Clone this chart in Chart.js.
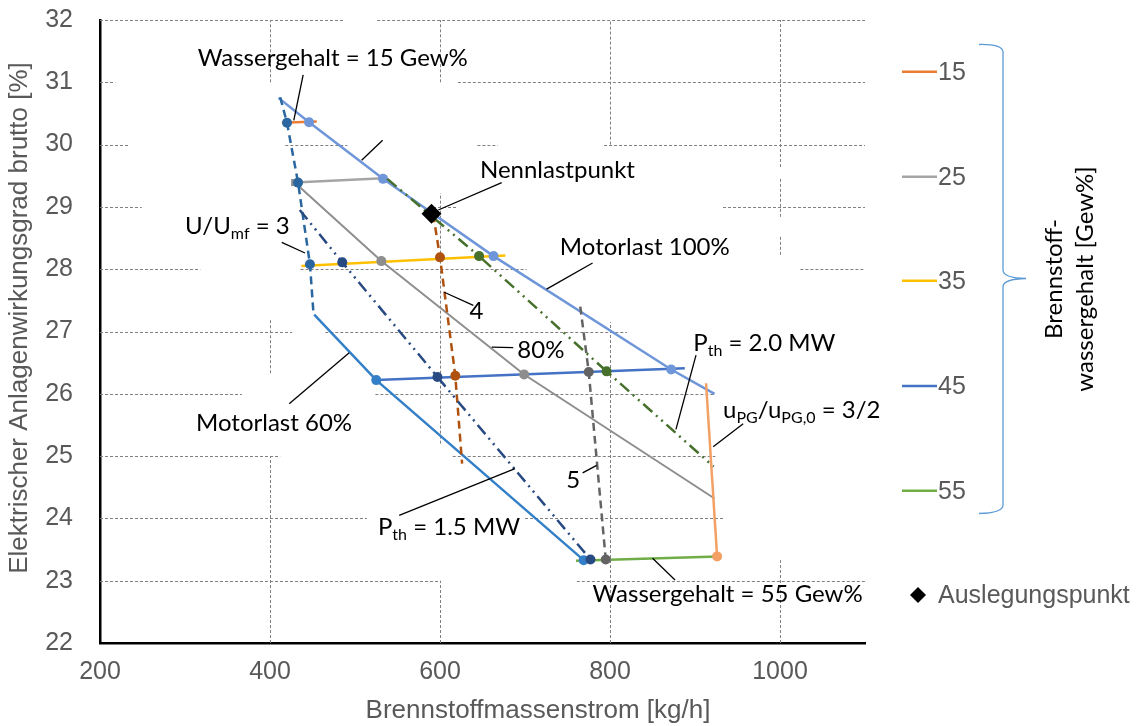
<!DOCTYPE html>
<html>
<head>
<meta charset="utf-8">
<script src="https://cdn.jsdelivr.net/npm/chart.js@4.4.1/dist/chart.umd.min.js"></script>
<style>
  html, body { margin: 0; padding: 0; background: #fff; }
  #wrap { width: 1145px; height: 726px; }
</style>
</head>
<body>
<div id="wrap"><canvas id="myChart" width="1145" height="726"></canvas></div>
<script>
// Brennstoffwassergehalt [Gew%] - lines of constant water content
const water15X = [414, 455];  const water15Y = [30.35, 30.37];
const water25X = [429, 533];  const water25Y = [29.39, 29.46];
const water35X = [437, 677];  const water35Y = [28.05, 28.22];
const water45X = [525, 888];  const water45Y = [26.22, 26.41];
const water55X = [760, 927];  const water55Y = [23.32, 23.39];

// Motorlast
const load100X = [410, 446, 533, 663, 872, 923];
const load100Y = [30.75, 30.36, 29.45, 28.21, 26.39, 26.00];
const load80X = [429, 531, 699, 923];
const load80Y = [29.39, 28.13, 26.31, 24.32];
const load60X = [452, 525, 769];
const load60Y = [27.27, 26.22, 23.33];

// U/Umf
const umf3X = [412, 420, 433, 447, 451];
const umf3Y = [30.76, 30.35, 29.39, 28.08, 27.32];
const umf4X = [592, 600, 618, 626];
const umf4Y = [28.88, 28.19, 26.29, 24.88];
const umf5X = [765, 775, 795];
const umf5Y = [27.40, 26.35, 23.34];

// P_th
const pth20X = [538, 646, 796, 922];
const pth20Y = [29.45, 28.21, 26.36, 24.83];
const pth15X = [435, 485, 597, 777];
const pth15Y = [28.95, 28.11, 26.27, 23.34];

// u_PG/u_PG,0 = 3/2
const upgX = [913, 926];
const upgY = [26.17, 23.39];

// Nennlastpunkt / Auslegungspunkt
const designX = [590];
const designY = [28.89];

const xTicks = [200, 1100, 200];   // min, max, step
const yTicks = [22, 32, 1];
const legendLabels = ['15', '25', '35', '45', '55'];

const pts = (xs, ys) => xs.map((x, i) => ({ x: x, y: ys[i] }));

function lineSet(label, xs, ys, color, marked, extra) {
    return Object.assign({
        label: label,
        data: pts(xs, ys),
        showLine: true,
        borderColor: color,
        backgroundColor: color,
        borderWidth: 2.5,
        pointRadius: ctx => marked.includes(ctx.dataIndex) ? 5 : 0,
        pointHoverRadius: 0,
        pointBorderWidth: 0,
        tension: 0
    }, extra || {});
}

const DASH = [8, 5];
const DASH_DOT_DOT = [12, 5, 2, 5, 2, 5];

const waterColors = ['#ED7D31', '#A5A5A5', '#FFC000', '#4472C4', '#70AD47'];

const datasets = [
    {
        label: 'Auslegungspunkt', data: pts(designX, designY), showLine: false,
        pointStyle: 'rectRot', pointRadius: 10, backgroundColor: '#000', borderColor: '#000', pointBorderWidth: 0
    },
    lineSet('uPG 3/2', upgX, upgY, '#F2A064', [1]),
    lineSet('Pth 2.0', pth20X, pth20Y, '#46702C', [1, 2], { borderDash: DASH_DOT_DOT }),
    lineSet('Pth 1.5', pth15X, pth15Y, '#284A82', [1, 2, 3], { borderDash: DASH_DOT_DOT }),
    lineSet('Umf 5', umf5X, umf5Y, '#636363', [1, 2], { borderDash: DASH }),
    lineSet('Umf 4', umf4X, umf4Y, '#B0520F', [1, 2], { borderDash: DASH }),
    lineSet('Umf 3', umf3X, umf3Y, '#2A66A0', [1, 2, 3], { borderDash: DASH }),
    lineSet('Motorlast 100%', load100X, load100Y, '#6E96D8', [1, 2, 3, 4]),
    lineSet('Motorlast 80%', load80X, load80Y, '#8E8E8E', [0, 1, 2],
        { pointStyle: ctx => ctx.dataIndex === 0 ? 'rect' : 'circle', borderWidth: 2 }),
    lineSet('Motorlast 60%', load60X, load60Y, '#3480C8', [1, 2]),
    lineSet('15', water15X, water15Y, waterColors[0], []),
    lineSet('25', water25X, water25Y, waterColors[1], []),
    lineSet('35', water35X, water35Y, waterColors[2], []),
    lineSet('45', water45X, water45Y, waterColors[3], []),
    lineSet('55', water55X, water55Y, waterColors[4], [])
];

// dashed grid, drawn in pieces like the original (gaps where label boxes covered it)
const gridH = [
    [32, [[200, 486], [526, 1100]]],
    [31, [[200, 218], [621, 1100]]],
    [30, [[200, 233], [418, 491], [644, 668], [793, 1100]]],
    [29, [[200, 249], [580, 621], [933, 1100]]],
    [28, [[200, 318], [436, 702], [1024, 1100]]],
    [27, [[200, 426], [465, 820]]],
    [26, [[200, 367], [524, 924]]],
    [25, [[200, 412], [615, 924]]],
    [24, [[200, 514], [700, 933]]],
    [23, [[200, 600], [761, 1100]]]
];
const gridV = [
    [400, [[31, 32], [26.33, 27.21], [22, 25]]],
    [600, [[31, 32], [25.2, 29.22], [22, 23]]],
    [800, [[30, 32], [22, 27.15]]],
    [1000, [[29.64, 32], [28.84, 29.46], [28.23, 28.53], [22, 23.33]]]
];

// annotations: text parts (second item true = subscript), anchor in data units, leader line
const notes = [
    { parts: [['Wassergehalt = 15 Gew%']], at: [315, 31.39], line: [[439, 31.12], [428, 30.39]] },
    { parts: null, line: [[532.5, 30.07], [507.8, 29.75]] },
    { parts: [['Nennlastpunkt']], at: [647, 29.59], line: [[672.6, 29.39], [598, 28.95]] },
    { parts: [['U/U'], ['mf', true], [' = 3']], at: [300, 28.69], line: [[413.8, 28.43], [441.2, 28.26]] },
    { parts: [['4']], at: [643, 27.32], center: true, line: [[605, 27.63], [639.2, 27.42]] },
    { parts: [['Motorlast 100%']], at: [741, 28.36], line: [[779.5, 28.10], [725.4, 27.68]] },
    { parts: [['80%']], at: [691, 26.70], line: [[660.8, 26.75], [686.2, 26.74]] },
    { parts: [['Motorlast 60%']], at: [313, 25.53], line: [[422.6, 25.84], [493.2, 26.66]] },
    { parts: [['P'], ['th', true], [' = 2.0 MW']], at: [898, 26.81], line: [[901.2, 26.62], [877.6, 25.43]] },
    { parts: [['u'], ['PG', true], ['/u'], ['PG,0', true], [' = 3/2']], at: [933, 25.74], line: [[956.7, 25.52], [921.4, 25.15]] },
    { parts: [['5']], at: [756.7, 24.61], center: true, line: [[767.8, 24.73], [784.3, 24.85]] },
    { parts: [['P'], ['th', true], [' = 1.5 MW']], at: [527, 23.86], line: [[552, 24.05], [688.2, 24.80]] },
    { parts: [['Wassergehalt = 55 Gew%']], at: [779.5, 22.79], line: [[876.5, 23.01], [850.1, 23.36]] }
];

const NOTE_FONT = "24px Lato, 'Open Sans', sans-serif";
const SUB_FONT = "16px Lato, 'Open Sans', sans-serif";
const AXIS_FONT = "'Liberation Sans', Arial, sans-serif";
const GREY = '#595959';

function richWidth(ctx, parts) {
    let w = 0;
    parts.forEach(p => { ctx.font = p[1] ? SUB_FONT : NOTE_FONT; w += ctx.measureText(p[0]).width; });
    return w;
}
function drawRich(ctx, parts, x, y) {
    parts.forEach(p => {
        ctx.font = p[1] ? SUB_FONT : NOTE_FONT;
        ctx.fillText(p[0], x, p[1] ? y + 8 : y);
        x += ctx.measureText(p[0]).width;
    });
}

const gridPlugin = {
    id: 'pieceGrid',
    beforeDatasetsDraw(chart) {
        const { ctx, scales: { x, y } } = chart;
        ctx.save();
        ctx.strokeStyle = '#808080';
        ctx.lineWidth = 1;
        ctx.setLineDash([3, 2]);
        ctx.beginPath();
        gridH.forEach(([v, segs]) => {
            const py = Math.round(y.getPixelForValue(v)) + 0.5;
            segs.forEach(([a, b]) => { ctx.moveTo(x.getPixelForValue(a), py); ctx.lineTo(x.getPixelForValue(b), py); });
        });
        gridV.forEach(([v, segs]) => {
            const px = Math.round(x.getPixelForValue(v)) + 0.5;
            segs.forEach(([a, b]) => { ctx.moveTo(px, y.getPixelForValue(a)); ctx.lineTo(px, y.getPixelForValue(b)); });
        });
        ctx.stroke();
        ctx.restore();
    }
};

const overlayPlugin = {
    id: 'overlay',
    afterDraw(chart) {
        const { ctx, scales: { x, y } } = chart;
        ctx.save();

        // leader lines + labels
        ctx.strokeStyle = '#000';
        ctx.lineWidth = 1.3;
        ctx.setLineDash([]);
        notes.forEach(n => {
            ctx.beginPath();
            ctx.moveTo(x.getPixelForValue(n.line[0][0]), y.getPixelForValue(n.line[0][1]));
            ctx.lineTo(x.getPixelForValue(n.line[1][0]), y.getPixelForValue(n.line[1][1]));
            ctx.stroke();
        });
        ctx.fillStyle = '#000';
        ctx.textBaseline = 'middle';
        ctx.textAlign = 'left';
        notes.forEach(n => {
            if (!n.parts) return;
            let px = x.getPixelForValue(n.at[0]);
            const py = y.getPixelForValue(n.at[1]);
            if (n.center) px -= richWidth(ctx, n.parts) / 2;
            drawRich(ctx, n.parts, px, py);
        });

        // axis titles
        ctx.fillStyle = GREY;
        ctx.font = '26px ' + AXIS_FONT;
        ctx.textAlign = 'center';
        ctx.fillText('Brennstoffmassenstrom [kg/h]', 538, 711);
        ctx.save();
        ctx.translate(20, 318);
        ctx.rotate(-Math.PI / 2);
        ctx.fillText('Elektrischer Anlagenwirkungsgrad brutto [%]', 0, 0);
        ctx.restore();

        // legend
        const legY = [71.7, 176.7, 280.7, 386, 490.7];
        ctx.font = '25px ' + AXIS_FONT;
        ctx.textAlign = 'left';
        ctx.lineWidth = 2.5;
        legendLabels.forEach((lab, i) => {
            ctx.strokeStyle = waterColors[i];
            ctx.beginPath();
            ctx.moveTo(902, legY[i]);
            ctx.lineTo(937, legY[i]);
            ctx.stroke();
            ctx.fillStyle = GREY;
            ctx.fillText(lab, 938, legY[i] + 1);
        });

        // Auslegungspunkt
        ctx.fillStyle = '#000';
        ctx.beginPath();
        ctx.moveTo(918, 587); ctx.lineTo(926, 595); ctx.lineTo(918, 603); ctx.lineTo(910, 595);
        ctx.closePath();
        ctx.fill();
        ctx.fillStyle = GREY;
        ctx.fillText('Auslegungspunkt', 938, 596);

        // curly brace
        ctx.strokeStyle = '#5B9BD5';
        ctx.lineWidth = 1.3;
        ctx.beginPath();
        ctx.moveTo(979, 44.5);
        ctx.quadraticCurveTo(1003, 44, 1003, 52);
        ctx.lineTo(1003, 270);
        ctx.quadraticCurveTo(1003, 278, 1026, 278.5);
        ctx.quadraticCurveTo(1003, 279, 1003, 287);
        ctx.lineTo(1003, 505);
        ctx.quadraticCurveTo(1003, 513, 979, 513.5);
        ctx.stroke();

        // brace caption
        ctx.fillStyle = '#000';
        ctx.font = NOTE_FONT;
        ctx.textAlign = 'center';
        ctx.save();
        ctx.translate(1054, 279);
        ctx.rotate(-Math.PI / 2);
        ctx.fillText('Brennstoff-', 0, 0);
        ctx.fillText('wassergehalt [Gew%]', 0, 31);
        ctx.restore();

        ctx.restore();
    }
};

new Chart(document.getElementById('myChart'), {
    type: 'scatter',
    data: { datasets: datasets },
    options: {
        responsive: false,
        animation: false,
        devicePixelRatio: 1,
        layout: { autoPadding: false, padding: { left: 0, right: 280, top: 20, bottom: 0 } },
        plugins: { legend: { display: false }, tooltip: { enabled: false } },
        scales: {
            x: {
                type: 'linear', min: xTicks[0], max: xTicks[1],
                afterFit: s => { s.height = 83; s.paddingLeft = 0; s.paddingRight = 0; },
                grid: { display: false },
                border: { display: true, color: '#000', width: 2.5 },
                ticks: { stepSize: xTicks[2], includeBounds: false, padding: 6, color: GREY,
                         font: { family: AXIS_FONT, size: 25 }, callback: v => String(v) }
            },
            y: {
                type: 'linear', min: yTicks[0], max: yTicks[1],
                afterFit: s => { s.width = 100; s.paddingTop = 0; s.paddingBottom = 0; },
                grid: { display: false },
                border: { display: true, color: '#000', width: 2.5 },
                ticks: { stepSize: yTicks[2], padding: 19, color: GREY,
                         font: { family: AXIS_FONT, size: 25 } }
            }
        }
    },
    plugins: [gridPlugin, overlayPlugin]
});
</script>
</body>
</html>
